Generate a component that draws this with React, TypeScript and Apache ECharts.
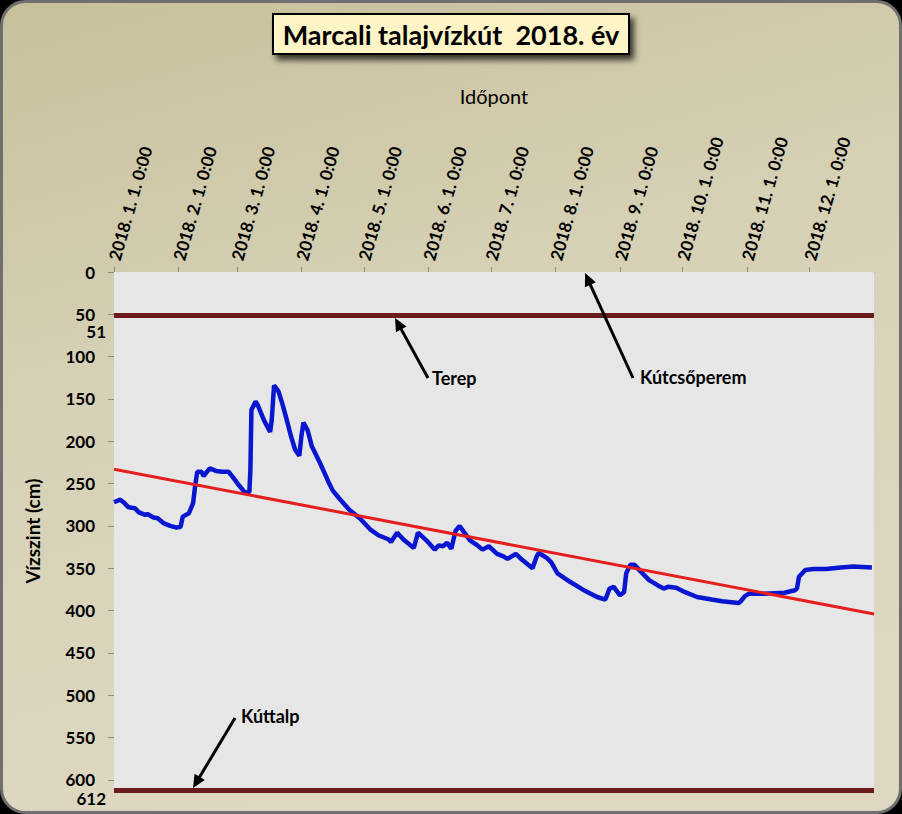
import React, { useEffect, useRef } from "react";
import * as echarts from "echarts";

// Measured water level (cm below well top)
const dates = [
  "2018-01-01", "2018-01-04", "2018-01-06", "2018-01-08", "2018-01-11", "2018-01-13",
  "2018-01-16", "2018-01-17", "2018-01-20", "2018-01-22", "2018-01-25", "2018-01-28",
  "2018-01-31", "2018-02-02", "2018-02-03", "2018-02-06", "2018-02-08", "2018-02-09",
  "2018-02-10", "2018-02-12", "2018-02-13", "2018-02-16", "2018-02-19", "2018-02-22",
  "2018-02-25", "2018-02-27", "2018-03-02", "2018-03-05", "2018-03-07", "2018-03-07 12:00",
  "2018-03-08", "2018-03-10", "2018-03-11", "2018-03-14", "2018-03-17", "2018-03-17 18:00",
  "2018-03-18 21:00", "2018-03-21", "2018-03-23", "2018-03-25", "2018-03-27", "2018-03-29",
  "2018-03-31", "2018-04-01", "2018-04-02", "2018-04-04", "2018-04-06", "2018-04-10",
  "2018-04-14", "2018-04-16", "2018-04-19", "2018-04-24", "2018-04-29", "2018-05-04",
  "2018-05-08", "2018-05-13", "2018-05-14", "2018-05-17", "2018-05-20", "2018-05-25",
  "2018-05-27", "2018-05-31", "2018-06-04", "2018-06-06", "2018-06-08", "2018-06-10",
  "2018-06-12", "2018-06-14", "2018-06-16", "2018-06-18", "2018-06-21", "2018-06-24",
  "2018-06-27", "2018-06-30", "2018-07-04", "2018-07-07", "2018-07-09", "2018-07-13",
  "2018-07-16", "2018-07-21", "2018-07-23", "2018-07-24", "2018-07-28", "2018-07-30",
  "2018-08-02", "2018-08-08", "2018-08-14", "2018-08-21", "2018-08-25", "2018-08-27",
  "2018-08-29", "2018-09-01", "2018-09-03", "2018-09-04", "2018-09-06", "2018-09-08",
  "2018-09-11", "2018-09-15", "2018-09-19", "2018-09-22", "2018-09-24", "2018-09-28",
  "2018-10-02", "2018-10-08", "2018-10-15", "2018-10-20", "2018-10-28", "2018-10-29",
  "2018-10-31", "2018-11-02", "2018-11-09", "2018-11-19", "2018-11-24", "2018-11-25",
  "2018-11-26", "2018-11-29", "2018-12-03", "2018-12-09", "2018-12-16", "2018-12-22",
  "2018-12-31",
];
const levels = [
  272, 269, 273, 278, 279, 284,
  287, 286, 290, 291, 297, 300,
  302, 301, 289, 285, 273, 252,
  236, 236, 241, 232, 235, 236,
  236, 242, 252, 261, 260, 234,
  163, 153, 157, 175, 189, 175,
  134, 141, 157, 175, 194, 210,
  217, 194, 178, 187, 206, 226,
  248, 258, 267, 281, 291, 304,
  311, 316, 319, 308, 316, 326,
  308, 317, 328, 323, 324, 320,
  327, 306, 300, 307, 317, 322,
  328, 324, 333, 336, 339, 333,
  340, 350, 336, 332, 338, 343,
  356, 366, 375, 384, 387, 374,
  372, 382, 378, 356, 346, 346,
  354, 364, 370, 374, 372, 373,
  378, 384, 387, 389, 391, 389,
  383, 380, 380, 379, 376, 374,
  360, 352, 351, 351, 349, 348,
  349,
];

// Linear trend
const trendDates = ["2018-01-01", "2019-01-01"];
const trendValues = [233, 404];

// Reference levels
const terepLevel = 51; // ground surface
const kuttalpLevel = 612; // well bottom

const xMin = "2018-01-01";
const xMax = "2019-01-01";
const yTicks = { min: 0, max: 612, interval: 50 };

const titleText = "Marcali talajvízkút  2018. év";
const xName = "Időpont";
const yName = "Vízszint (cm)";

const FONT = "Lato, 'Open Sans', sans-serif";

function arrow(x1: number, y1: number, x2: number, y2: number) {
  const dx = x2 - x1;
  const dy = y2 - y1;
  const len = Math.sqrt(dx * dx + dy * dy);
  const ux = dx / len;
  const uy = dy / len;
  const hl = 13;
  const hw = 6;
  const bx = x2 - ux * hl;
  const by = y2 - uy * hl;
  const nx = -uy;
  const ny = ux;
  return [
    {
      type: "line",
      shape: { x1, y1, x2: bx + ux * 2, y2: by + uy * 2 },
      style: { stroke: "#000", lineWidth: 3 },
      z: 100,
    },
    {
      type: "polygon",
      shape: {
        points: [
          [x2, y2],
          [bx + nx * hw, by + ny * hw],
          [bx - nx * hw, by - ny * hw],
        ],
      },
      style: { fill: "#000" },
      z: 100,
    },
  ];
}

function annText(text: string, x: number, y: number) {
  return {
    type: "text",
    x,
    y,
    z: 100,
    style: {
      text,
      fill: "#000",
      font: `bold 18px ${FONT}`,
      verticalAlign: "middle",
    },
  };
}

export default function App() {
  const ref = useRef<HTMLDivElement>(null);
  useEffect(() => {
    if (!ref.current) return;
    const chart = echarts.init(ref.current, undefined, { renderer: "svg" });
    const fmt = (v: number) => {
      const d = new Date(v);
      return `${d.getFullYear()}. ${d.getMonth() + 1}. ${d.getDate()}. 0:00`;
    };
    const baseGraphics: any[] = [
      {
        type: "rect",
        id: "bg",
        z: -10,
        silent: true,
        shape: { x: 1.5, y: 1.5, width: 899, height: 811, r: 24 },
        style: {
          fill: new echarts.graphic.LinearGradient(0, 0, 0.3, 1, [
            { offset: 0, color: "#C7C09B" },
            { offset: 0.45, color: "#D6D0B5" },
            { offset: 1, color: "#DED8C2" },
          ]),
          stroke: "#6f6f6f",
          lineWidth: 3,
        },
      },
      ...arrow(428, 378, 395, 318),
      annText("Terep", 432, 378),
      ...arrow(633, 378, 585, 273),
      annText("Kútcsőperem", 640, 377),
      ...arrow(235, 718, 193, 788),
      annText("Kúttalp", 241, 716),
    ];
    const option: any = {
      animation: false,
      backgroundColor: "#000",
      title: {
        text: titleText,
        left: "center",
        top: 14,
        padding: [7, 10, 6, 10],
        backgroundColor: "#FFF4C6",
        borderColor: "#000",
        borderWidth: 2,
        shadowBlur: 6,
        shadowColor: "rgba(0,0,0,0.75)",
        shadowOffsetX: 4,
        shadowOffsetY: 5,
        textStyle: { fontFamily: FONT, fontSize: 27, fontWeight: "bold", color: "#000" },
      },
      grid: {
        left: 114,
        top: 272,
        right: 28,
        bottom: 24,
        show: true,
        backgroundColor: "#E6E6E6",
        borderWidth: 0,
        z: 2,
      },
      xAxis: {
        type: "time",
        position: "top",
        min: xMin,
        max: xMax,
        minInterval: 28 * 24 * 3600 * 1000,
        maxInterval: 31 * 24 * 3600 * 1000,
        name: xName,
        nameLocation: "middle",
        nameGap: 166,
        nameTextStyle: { fontFamily: FONT, fontSize: 20, color: "#000" },
        axisLine: { show: true, lineStyle: { color: "#8a8a8a", width: 1 } },
        axisTick: { show: true, length: 5, lineStyle: { color: "#8a8a8a" } },
        minorTick: { show: false },
        splitLine: { show: false },
        axisLabel: {
          rotate: 74,
          formatter: fmt,
          showMaxLabel: false,
          showMinLabel: true,
          hideOverlap: false,
          fontFamily: FONT,
          fontSize: 17,
          fontWeight: "bold",
          color: "#000",
          margin: 12,
        },
      },
      yAxis: {
        type: "value",
        inverse: true,
        min: yTicks.min,
        max: yTicks.max,
        interval: yTicks.interval,
        name: yName,
        nameLocation: "middle",
        nameGap: 72,
        nameTextStyle: { fontFamily: FONT, fontSize: 19, fontWeight: "bold", color: "#000" },
        axisLine: { show: true, lineStyle: { color: "#8a8a8a", width: 1 } },
        axisTick: { show: true, length: 6, lineStyle: { color: "#8a8a8a" } },
        splitLine: { show: true, lineStyle: { color: "#7a7a7a", width: 1 } },
        axisLabel: {
          showMaxLabel: false,
          fontFamily: FONT,
          fontSize: 17,
          fontWeight: "bold",
          color: "#000",
          margin: 19,
        },
      },
      series: [
        {
          type: "line",
          name: "Vízszint",
          data: dates.map((d, i) => [d, levels[i]]),
          showSymbol: false,
          symbol: "none",
          lineStyle: { color: "#0816CF", width: 4.5 },
          z: 3,
          markLine: {
            silent: true,
            symbol: "none",
            label: { show: false },
            lineStyle: { color: "#6B1B1B", width: 5, type: "solid" },
            data: [{ yAxis: terepLevel }, { yAxis: kuttalpLevel }],
            z: 4,
          },
        },
        {
          type: "line",
          name: "Trend",
          data: trendDates.map((d, i) => [d, trendValues[i]]),
          showSymbol: false,
          symbol: "none",
          lineStyle: { color: "#E51E1E", width: 3 },
          z: 5,
        },
      ],
      graphic: baseGraphics,
    };
    chart.setOption(option);

    // value labels for the reference levels, placed through the axis scales
    const refs = [
      { v: terepLevel, dy: 16 },
      { v: kuttalpLevel, dy: 8 },
    ];
    const refTexts = refs.map((r, i) => {
      const p = chart.convertToPixel({ gridIndex: 0 }, [xMin, r.v]) as number[];
      return {
        type: "text",
        id: "ref" + i,
        x: p[0] - 8,
        y: p[1] + r.dy,
        z: 100,
        style: {
          text: String(r.v),
          fill: "#000",
          font: `bold 17px ${FONT}`,
          align: "right",
          verticalAlign: "middle",
        },
      };
    });
    chart.setOption({ graphic: [...baseGraphics, ...refTexts] }, { replaceMerge: ["graphic"] });
    return () => chart.dispose();
  }, []);
  return (
    <div
      ref={ref}
      style={{ position: "absolute", left: 0, top: 0, width: 902, height: 814 }}
    />
  );
}
